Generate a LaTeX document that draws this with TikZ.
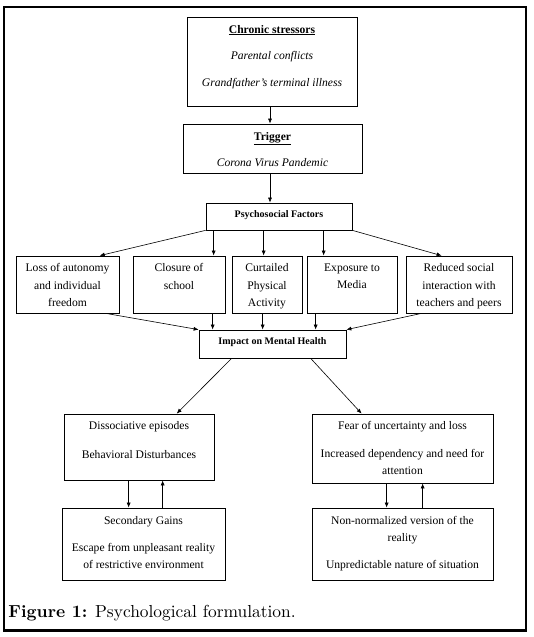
\documentclass[tikz,border=0pt]{standalone}
\usepackage{fontspec}
\setmainfont{Liberation Serif}
\newfontfamily\capfont{lmroman10-regular.otf}[BoldFont=lmroman10-bold.otf]
\usetikzlibrary{arrows.meta}
\begin{document}
\begin{tikzpicture}[x=1pt,y=-1pt,
  box/.style={draw=black, line width=0.7pt, inner sep=0pt},
  arr/.style={line width=0.6pt, -{Latex[length=5pt,width=4pt]}},
  txt/.style={anchor=base, inner sep=0pt, font=\fontsize{11.6}{14}\selectfont},
  itxt/.style={anchor=base, inner sep=0pt, font=\itshape\fontsize{11.6}{14}\selectfont},
  btxt/.style={anchor=base, inner sep=0pt, font=\bfseries\fontsize{10}{12}\selectfont},
  frame/.style={draw=black, line width=2.2pt}
]
\useasboundingbox (0,0) rectangle (534,637);
\draw[frame] (3.7,6.7) rectangle (526,630.5);

% boxes
\node[box, minimum width=170pt, minimum height=89pt] (chronic) at (272,61.5) {};
\node[box, minimum width=179pt, minimum height=49pt] (trigger) at (272.5,148.5) {};
\node[box, minimum width=146pt, minimum height=27pt] (psy) at (279,216.5) {};
\node[box, minimum width=103pt, minimum height=57pt] (loss) at (67.5,284.5) {};
\node[box, minimum width=92pt, minimum height=57pt] (clos) at (179,284.5) {};
\node[box, minimum width=70pt, minimum height=57pt] (curt) at (267,284.5) {};
\node[box, minimum width=90pt, minimum height=57pt] (expo) at (352,284.5) {};
\node[box, minimum width=106pt, minimum height=57pt] (redu) at (459,284.5) {};
\node[box, minimum width=147pt, minimum height=28pt] (impact) at (272.5,344) {};
\node[box, minimum width=150pt, minimum height=66pt] (diss) at (139,447) {};
\node[box, minimum width=163pt, minimum height=72pt] (sec) at (143.5,544) {};
\node[box, minimum width=181pt, minimum height=69pt] (fear) at (402.5,448.5) {};
\node[box, minimum width=181pt, minimum height=72pt] (non) at (402.5,544) {};

% texts
\node[txt] (c1) at (272,33) {\bfseries\underline{Chronic stressors}};
\node[itxt] (c2) at (272,59.7) {Parental conflicts};
\node[itxt] (c3) at (272,86.3) {Grandfather's terminal illness};
\node[txt] (tr1) at (272.5,140) {\bfseries\underline{Trigger}};
\node[itxt] (tr2) at (272.5,166) {Corona Virus Pandemic};
\node[btxt] (ps1) at (279,217) {Psychosocial Factors};

\node[txt] (l1) at (67.5,271.5) {Loss of autonomy};
\node[txt] (l2) at (67.5,289) {and individual};
\node[txt] (l3) at (67.5,306.5) {freedom};
\node[txt] (cl1) at (179,271.5) {Closure of};
\node[txt] (cl2) at (179,289) {school};
\node[txt] (cu1) at (267,271.5) {Curtailed};
\node[txt] (cu2) at (267,289) {Physical};
\node[txt] (cu3) at (267,306.5) {Activity};
\node[txt] (e1) at (352,271) {Exposure to};
\node[txt] (e2) at (352,288.5) {Media};
\node[txt] (r1) at (459,271.5) {Reduced social};
\node[txt] (r2) at (459,289) {interaction with};
\node[txt] (r3) at (459,306.5) {teachers and peers};

\node[btxt] (im1) at (272.5,344) {Impact on Mental Health};

\node[txt] (d1) at (139,429.5) {Dissociative episodes};
\node[txt] (d2) at (139,458) {Behavioral Disturbances};
\node[txt] (s1) at (143.5,524.7) {Secondary Gains};
\node[txt] (s2) at (143.5,551) {Escape from unpleasant reality};
\node[txt] (s3) at (143.5,568.5) {of restrictive environment};
\node[txt] (f1) at (402.5,429.5) {Fear of uncertainty and loss};
\node[txt] (f2) at (402.5,457.5) {Increased dependency and need for};
\node[txt] (f3) at (402.5,474.5) {attention};
\node[txt] (n1) at (402.5,524.5) {Non-normalized version of the};
\node[txt] (n2) at (402.5,541) {reality};
\node[txt] (n3) at (402.5,568.5) {Unpredictable nature of situation};

\node[anchor=base west, inner sep=0pt, font=\capfont\fontsize{17.4}{20}\selectfont] (cap) at (8.3,617) {\textbf{Figure 1:} Psychological formulation.};

% connectors
\draw[arr] ([xshift=-2pt]chronic.south) -- ([xshift=-2.5pt]trigger.north);
\draw[arr] ([xshift=-2.5pt]trigger.south) -- ([xshift=-9pt]psy.north);
\draw[arr] (psy.south west) -- ([xshift=84pt]loss.north west);
\draw[arr] ([xshift=8pt]psy.south west) -- ([xshift=81pt]clos.north west);
\draw[arr] ([xshift=58pt]psy.south west) -- ([xshift=32pt]curt.north west);
\draw[arr] ([xshift=118pt]psy.south west) -- ([xshift=17pt]expo.north west);
\draw[arr] (psy.south east) -- ([xshift=36pt]redu.north west);

\draw[arr] ([xshift=90pt]loss.south west) -- (impact.north west);
\draw[arr] ([xshift=80pt]clos.south west) -- ([xshift=14pt]impact.north west);
\draw[arr] ([xshift=31pt]curt.south west) -- ([xshift=64pt]impact.north west);
\draw[arr] ([xshift=9pt]expo.south west) -- ([xshift=117pt]impact.north west);
\draw[arr] ([xshift=16pt]redu.south west) -- (impact.north east);

\draw[arr] ([xshift=33pt]impact.south west) -- ([xshift=113pt]diss.north west);
\draw[arr] ([xshift=112pt]impact.south west) -- ([xshift=50pt]fear.north west);

\draw[arr] ([xshift=65pt]diss.south west) -- ([xshift=67pt]sec.north west);
\draw[arr] ([xshift=101pt]sec.north west) -- ([xshift=99pt]diss.south west);
\draw[arr] ([xshift=75pt]fear.south west) -- ([xshift=75pt]non.north west);
\draw[arr] ([xshift=111pt]non.north west) -- ([xshift=111pt]fear.south west);
\end{tikzpicture}
\end{document}
